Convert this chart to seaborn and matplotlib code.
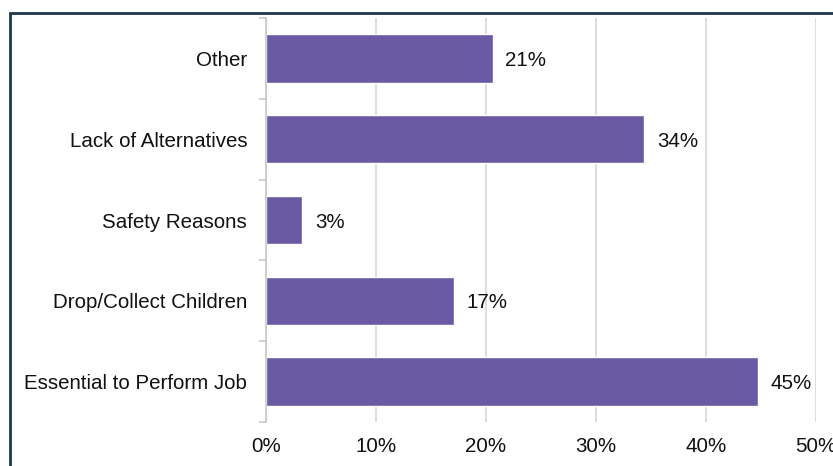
import matplotlib
matplotlib.use("Agg")
import matplotlib.pyplot as plt
import seaborn as sns
import pandas as pd
import numpy as np
from matplotlib.patches import Rectangle
from matplotlib.ticker import FixedLocator, PercentFormatter

categories = ["Other", "Lack of Alternatives", "Safety Reasons",
              "Drop/Collect Children", "Essential to Perform Job"]
values = [20.6, 34.4, 3.3, 17.1, 44.7]
labels = ["21%", "34%", "3%", "17%", "45%"]
xticks = [0, 10, 20, 30, 40, 50]

sns.set_theme(style="white")
plt.rcParams['font.family'] = ['Liberation Sans', 'DejaVu Sans']

FS = 14.8
df = pd.DataFrame({"cat": categories, "val": values})

fig = plt.figure(figsize=(8.33, 4.66), dpi=100)
ax = fig.add_axes([266/833, 1-422/466, 550/833, 404/466])

sns.barplot(data=df, x="val", y="cat", orient="h", color="#6A5AA3",
            saturation=1, width=0.6, ax=ax, zorder=3)

ax.set_xlim(0, 50)
ax.set_ylim(len(categories)-0.5, -0.5)
ax.set_xticks(xticks)
ax.xaxis.set_major_formatter(PercentFormatter(decimals=0))
ax.set_xlabel("")
ax.set_ylabel("")
ax.grid(axis="x", color="#DADADA", linewidth=1.3, zorder=0)
ax.set_axisbelow(True)

for s in ["top", "right", "bottom"]:
    ax.spines[s].set_visible(False)
ax.spines["left"].set_color("#C8C8C8")
ax.spines["left"].set_linewidth(1.2)
ax.spines["left"].set_zorder(4)

ax.tick_params(axis="y", which="major", length=0, pad=13.5, labelsize=FS, labelcolor="#111111")
ax.yaxis.set_minor_locator(FixedLocator(np.arange(-0.5, len(categories), 1.0)))
ax.tick_params(axis="y", which="minor", length=5, width=1.2, color="#C8C8C8", left=True)
ax.tick_params(axis="x", length=0, pad=11, labelsize=FS, labelcolor="#111111")

for i, (v, lab) in enumerate(zip(values, labels)):
    ax.annotate(lab, xy=(v, i), xytext=(9, -1.5), textcoords="offset points",
                va="center", ha="left", fontsize=FS, color="#111111")

fig.patches.append(Rectangle((9.5/833, -0.2), 1.2, 1 - 12.5/466 + 0.2,
                             transform=fig.transFigure, fill=False,
                             edgecolor="#1F3850", linewidth=2, zorder=10))

fig.savefig("out.png", dpi=100)
